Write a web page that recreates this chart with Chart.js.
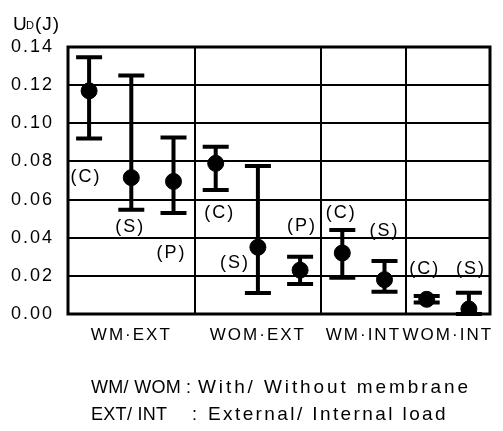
<!DOCTYPE html>
<html>
<head>
<meta charset="utf-8">
<script src="https://cdn.jsdelivr.net/npm/chart.js@4/dist/chart.umd.min.js"></script>
<style>
  html, body { margin: 0; padding: 0; background: #fff; }
</style>
</head>
<body>
<canvas id="chart" width="503" height="431"></canvas>
<script>
// U_D per condition: mean value with lower / upper error bar ends
const groupNames = ['WM·EXT', 'WOM·EXT', 'WM·INT', 'WOM·INT'];
const groupSizes = [3, 3, 2, 2];
const pointTags = ['(C)', '(S)', '(P)', '(C)', '(S)', '(P)', '(C)', '(S)', '(C)', '(S)'];
const means = [0.117, 0.0715, 0.0695, 0.079, 0.035, 0.023, 0.032, 0.018, 0.0077, 0.0026];
const lows  = [0.092, 0.0546, 0.053, 0.065, 0.011, 0.0157, 0.019, 0.0117, 0.006, 0.000];
const highs = [0.1346, 0.125, 0.0926, 0.0877, 0.0776, 0.030, 0.044, 0.0278, 0.0095, 0.0112];
const yTicks = [0, 0.02, 0.04, 0.06, 0.08, 0.10, 0.12, 0.14];

// where each (C)/(S)/(P) tag sits, in px relative to its point
const tagOffsets = [[-3, 86], [-1, 49], [-2, 72], [4, 50], [-23, 16],
                    [2, -44], [-1, -40], [0, -49], [-2, -30], [2, -40]];

const FONT = '"Liberation Sans", Arial, sans-serif';

// one slot per point, groups side by side
const xPos = means.map((_, i) => i + 0.5);
const dividers = [];
const centers = [];
let acc = 0;
groupSizes.forEach((n, g) => {
  centers.push(acc + n / 2);
  acc += n;
  if (g < groupSizes.length - 1) dividers.push(acc);
});
const labelAt = v => {
  const g = centers.indexOf(v);
  return g >= 0 ? groupNames[g] : '';
};

const errorBars = {
  id: 'errorBars',
  beforeDraw(chart) {
    chart.ctx.letterSpacing = '2px';
  },
  beforeDatasetsDraw(chart) {
    const { ctx, scales: { x, y } } = chart;
    ctx.save();
    ctx.strokeStyle = '#000';
    ctx.lineWidth = 4;
    means.forEach((m, i) => {
      const px = x.getPixelForValue(xPos[i]);
      const top = y.getPixelForValue(highs[i]);
      const bot = y.getPixelForValue(lows[i]);
      ctx.beginPath();
      ctx.moveTo(px, top); ctx.lineTo(px, bot);
      ctx.moveTo(px - 13, top); ctx.lineTo(px + 13, top);
      ctx.moveTo(px - 13, bot); ctx.lineTo(px + 13, bot);
      ctx.stroke();
    });
    ctx.restore();
  },
  afterDraw(chart) {
    const { ctx, chartArea: a, scales: { x, y } } = chart;
    ctx.save();
    ctx.strokeStyle = '#000';
    ctx.lineWidth = 3;
    ctx.strokeRect(a.left, a.top, a.right - a.left, a.bottom - a.top);

    ctx.fillStyle = '#000';
    ctx.letterSpacing = '2px';
    ctx.font = '18px ' + FONT;
    ctx.textAlign = 'center';
    ctx.textBaseline = 'middle';
    pointTags.forEach((t, i) => {
      const px = x.getPixelForValue(xPos[i]) + tagOffsets[i][0];
      const py = y.getPixelForValue(means[i]) + tagOffsets[i][1];
      ctx.fillText(t, px, py);
    });

    // axis title U_D(J)
    ctx.textAlign = 'left';
    ctx.textBaseline = 'alphabetic';
    ctx.letterSpacing = '1px';
    ctx.font = '19px ' + FONT;
    ctx.fillText('U', 13, 30);
    ctx.font = '11px ' + FONT;
    ctx.fillText('D', 26, 29);
    ctx.font = '19px ' + FONT;
    ctx.fillText('(J)', 35, 30);

    // footnote
    ctx.font = '18px ' + FONT;
    ctx.letterSpacing = '0.3px';
    ctx.fillText('WM/ WOM', 91, 393);
    ctx.fillText(':', 186, 393);
    ctx.fillText('EXT/ INT', 91, 420);
    ctx.fillText(':', 192, 420);
    ctx.font = '19px ' + FONT;
    ctx.letterSpacing = '2.9px';
    ctx.fillText('With/ Without membrane', 198, 393);
    ctx.letterSpacing = '2.4px';
    ctx.fillText('External/ Internal load', 208, 420);
    ctx.restore();
  }
};

new Chart(document.getElementById('chart'), {
  type: 'scatter',
  data: {
    datasets: [{
      data: means.map((m, i) => ({ x: xPos[i], y: m })),
      backgroundColor: '#000',
      borderColor: '#000',
      pointRadius: 8,
      pointHoverRadius: 8
    }]
  },
  options: {
    responsive: false,
    animation: false,
    layout: { padding: { top: 47, right: 13, left: 0, bottom: 0 } },
    plugins: { legend: { display: false }, tooltip: { enabled: false } },
    scales: {
      x: {
        type: 'linear',
        min: 0,
        max: acc,
        afterFit: s => { s.height = 117; },
        afterBuildTicks: s => {
          s.ticks = [...centers, ...dividers].sort((p, q) => p - q).map(v => ({ value: v }));
        },
        ticks: {
          autoSkip: false,
          maxRotation: 0,
          padding: 11,
          color: '#000',
          font: { family: FONT, size: 17 },
          callback: v => labelAt(v)
        },
        grid: {
          drawTicks: false,
          lineWidth: 2,
          color: c => (c.tick && dividers.includes(c.tick.value)) ? '#000' : 'rgba(0,0,0,0)'
        },
        border: { display: false }
      },
      y: {
        min: 0,
        max: 0.14,
        afterFit: s => { s.width = 68; },
        afterBuildTicks: s => { s.ticks = yTicks.map(v => ({ value: v })); },
        ticks: {
          padding: 14,
          color: '#000',
          font: { family: FONT, size: 18 },
          callback: v => v.toFixed(2)
        },
        grid: { drawTicks: false, lineWidth: 2, color: '#000' },
        border: { display: false }
      }
    }
  },
  plugins: [errorBars]
});
</script>
</body>
</html>
